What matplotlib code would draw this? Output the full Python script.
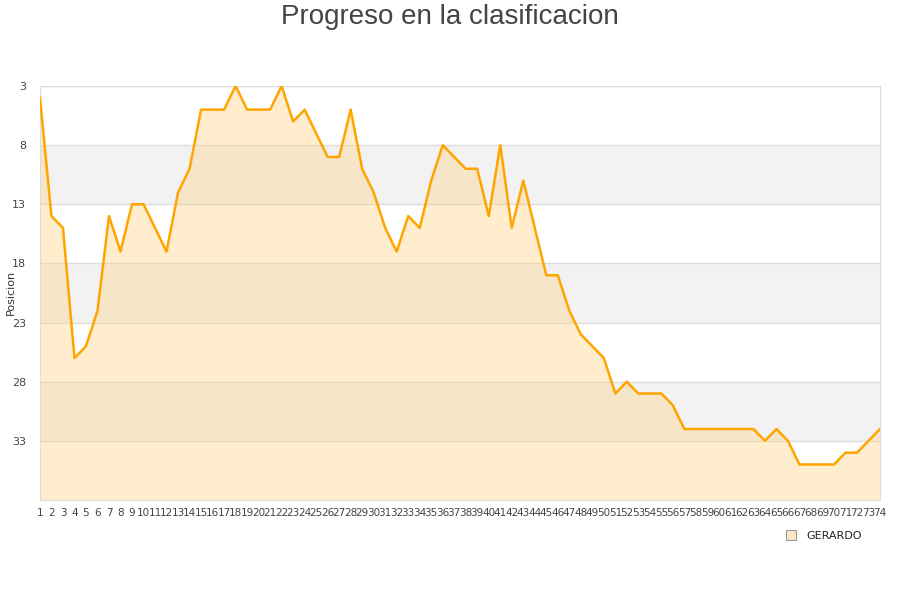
import matplotlib
matplotlib.use("Agg")
import matplotlib.pyplot as plt
from matplotlib.lines import Line2D

# jornada -> posicion
jornadas = list(range(1, 75))
posicion = [4, 14, 15, 26, 25, 22, 14, 17, 13, 13,
            15, 17, 12, 10, 5, 5, 5, 3, 5, 5,
            5, 3, 6, 5, 7, 9, 9, 5, 10, 12,
            15, 17, 14, 15, 11, 8, 9, 10, 10, 14,
            8, 15, 11, 15, 19, 19, 22, 24, 25, 26,
            29, 28, 29, 29, 29, 30, 32, 32, 32, 32,
            32, 32, 32, 33, 32, 33, 35, 35, 35, 35,
            34, 34, 33, 32]
yticks = [3, 8, 13, 18, 23, 28, 33]
nombre = "GERARDO"

fig = plt.figure(figsize=(9, 6), dpi=100)
ax = fig.add_axes([0.0444, 0.1667, 0.9334, 0.69])

ax.set_xlim(1, 74)
ax.set_ylim(38, 3)

# bandas alternas
for lo in [8, 18, 28]:
    ax.axhspan(lo, lo + 5, color="#f2f2f2", zorder=0, lw=0)
for t in yticks:
    ax.axhline(t, color="#dddddd", lw=1, zorder=1)

ax.fill_between(jornadas, posicion, 38, color="#ffd27f", alpha=0.38, lw=0, zorder=2)
ax.plot(jornadas, posicion, color="#ffa500", lw=1.8, zorder=3)

ax.set_yticks(yticks)
ax.set_xticks(jornadas)
ax.set_xticklabels([str(j) for j in jornadas], fontsize=7.5, color="#444444")
ax.tick_params(axis="y", labelsize=8, colors="#444444", length=0, pad=10)
ax.tick_params(axis="x", length=0, pad=6)
for s in ax.spines.values():
    s.set_color("#dddddd")

fig.text(0.012, 0.512, "Posicion", rotation=90, ha="center", va="center",
         fontsize=8, color="#333333")
fig.text(0.5, 0.972, "Progreso en la clasificacion", ha="center", va="center",
         fontsize=20, color="#444444", family="Liberation Sans")

handle = Line2D([], [], marker="s", ls="", markersize=7,
                markerfacecolor="#fde9c6", markeredgecolor="#999999", markeredgewidth=0.8)
fig.legend([handle], [nombre], loc="center left", bbox_to_anchor=(0.855, 0.107),
           frameon=False, fontsize=8, handletextpad=0.4, labelcolor="#222222")

fig.savefig("out.png", dpi=100)
